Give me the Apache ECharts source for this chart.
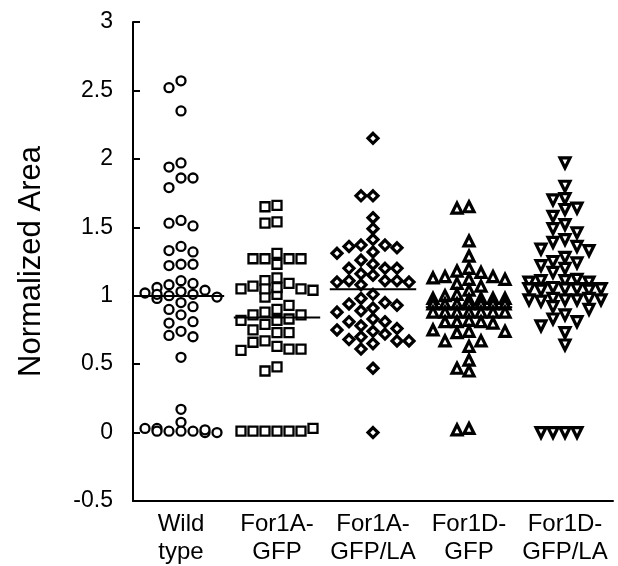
<!DOCTYPE html>
<html>
<head>
<meta charset="utf-8">
<script src="https://cdn.jsdelivr.net/npm/echarts@6/dist/echarts.min.js"></script>
<style>
  html, body { margin: 0; padding: 0; background: #fff; }
  #chart { width: 618px; height: 566px; }
</style>
</head>
<body>
<div id="chart"></div>
<script>
const categories = ['Wild\ntype', 'For1A-\nGFP', 'For1A-\nGFP/LA', 'For1D-\nGFP', 'For1D-\nGFP/LA']

// values, roughly top to bottom
const wildType = [
  2.57, 2.52, 2.35, 1.97, 1.94, 1.86, 1.86, 1.79, 1.55, 1.53, 1.51, 1.36, 1.33, 1.32,
  1.23, 1.22, 1.23, 1.11, 1.08, 1.09, 1.06, 1.04, 1.03, 1.02, 1.01, 1.00, 0.98, 0.99, 1.01,
  0.95, 0.92, 0.90, 0.86, 0.80, 0.81, 0.74, 0.71, 0.70, 0.55, 0.17, 0.075,
  0.01, 0.01, 0.03, 0.0, 0.03, 0.0, 0.01, 0.01, 0.02
]
const for1aGfp = [
  1.66, 1.65, 1.54, 1.53, 1.31, 1.27, 1.27, 1.27, 1.27, 1.23,
  1.13, 1.11, 1.09, 1.07, 1.05, 1.05, 1.01, 0.99, 1.04, 1.05, 1.06,
  0.93, 0.90, 0.88, 0.86, 0.86, 0.83, 0.82, 0.82, 0.79, 0.75, 0.73, 0.73,
  0.67, 0.66, 0.63, 0.61, 0.61, 0.60, 0.48, 0.45,
  0.01, 0.01, 0.01, 0.01, 0.01, 0.01, 0.03
]
const for1aGfpLa = [
  2.15, 1.73, 1.73, 1.57, 1.49,
  1.41, 1.37, 1.37, 1.36, 1.35, 1.32, 1.31,
  1.26, 1.23, 1.20, 1.20, 1.20, 1.16,
  1.15, 1.11, 1.11, 1.11, 1.10, 1.10, 1.08,
  1.01, 0.98, 0.95, 0.94, 0.93, 0.91, 0.89, 0.88,
  0.83, 0.81, 0.81, 0.78, 0.76, 0.75, 0.74,
  0.72, 0.70, 0.68, 0.67, 0.67, 0.65, 0.61, 0.47, 0.0
]
const for1dGfp = [
  1.65, 1.64, 1.40, 1.29, 1.20, 1.18,
  1.17, 1.14, 1.14, 1.13, 1.12, 1.12, 1.09, 1.07, 1.04,
  1.01, 1.00, 0.98, 0.98, 0.98, 0.98, 0.97,
  0.94, 0.94, 0.94, 0.94, 0.94, 0.94, 0.94,
  0.88, 0.88, 0.88, 0.88, 0.88, 0.88, 0.88,
  0.82, 0.81, 0.81, 0.81, 0.80,
  0.75, 0.74, 0.74, 0.73, 0.67, 0.67, 0.63,
  0.53, 0.47, 0.45, 0.03, 0.02
]
const for1dGfpLa = [
  1.97, 1.80, 1.71, 1.70, 1.64, 1.63, 1.58, 1.52, 1.49, 1.46,
  1.41, 1.39, 1.36, 1.34, 1.33, 1.28, 1.25, 1.24, 1.22, 1.20, 1.17,
  1.12, 1.11, 1.11, 1.10, 1.10,
  1.06, 1.05, 1.05, 1.05, 1.04, 1.04, 1.05,
  0.98, 0.97, 0.97, 0.96, 0.97, 0.97, 0.98,
  0.92, 0.90, 0.86, 0.83, 0.81, 0.78, 0.73, 0.64,
  0.0, 0.0, 0.0, 0.0
]

const groups = [wildType, for1aGfp, for1aGfpLa, for1dGfp, for1dGfpLa]
const symbols = ['circle', 'rect', 'diamond', 'triangle', 'triangle']
const rotations = [0, 0, 0, 0, 180]

// simple swarm: put each point in the nearest free column
const colStep = 0.125
const maxCol = 3
const minGap = 0.08
const swarm = (values, center) => {
  const cols = {}
  const order = [0]
  for (let k = 1; k <= maxCol; k++) order.push(-k, k)
  return values.map(v => {
    let best = null
    let bestGap = -1
    for (const c of order) {
      const taken = cols[c] || []
      const gap = taken.length ? Math.min(...taken.map(t => Math.abs(t - v))) : Infinity
      if (gap >= minGap) { best = c; break }
      if (gap > bestGap) { bestGap = gap; best = c }
    }
    (cols[best] = cols[best] || []).push(v)
    return [center + best * colStep, v]
  })
}

const mean = arr => arr.reduce((s, v) => s + v, 0) / arr.length

const font = 'Liberation Sans, Arial, sans-serif'
const chart = echarts.init(document.getElementById('chart'))

const series = groups.map((vals, i) => ({
  type: 'scatter',
  xAxisIndex: 1,
  data: swarm(vals, i),
  symbol: symbols[i],
  symbolSize: i < 2 ? 9 : 10,
  symbolRotate: rotations[i],
  itemStyle: {
    color: '#fff',
    borderColor: '#000',
    borderWidth: i < 2 ? 2.3 : 3.2,
    opacity: 1
  },
  z: 3
}))

// mean lines
series.push({
  type: 'custom',
  xAxisIndex: 1,
  data: groups.map((vals, i) => [i, mean(vals)]),
  renderItem: (params, api) => {
    const a = api.coord([api.value(0) - 0.45, api.value(1)])
    const b = api.coord([api.value(0) + 0.45, api.value(1)])
    return {
      type: 'line',
      shape: { x1: a[0], y1: a[1], x2: b[0], y2: b[1] },
      style: { stroke: '#000', lineWidth: 2 }
    }
  },
  z: 4
})

chart.setOption({
  animation: false,
  grid: { left: 133, right: 5, top: 22, bottom: 64 },
  xAxis: [
    {
      type: 'category',
      data: categories,
      axisLine: { onZero: false, lineStyle: { color: '#000', width: 2 } },
      axisTick: { inside: true, length: 7, lineStyle: { color: '#000', width: 2 } },
      axisLabel: {
        color: '#000',
        fontFamily: font,
        fontSize: 24,
        lineHeight: 28,
        margin: 9,
        interval: 0
      }
    },
    {
      type: 'value',
      min: -0.5,
      max: 4.5,
      show: false
    }
  ],
  yAxis: {
    type: 'value',
    min: -0.5,
    max: 3,
    interval: 0.5,
    name: 'Normalized Area',
    nameLocation: 'middle',
    nameGap: 86,
    nameTextStyle: { color: '#000', fontFamily: font, fontSize: 31 },
    axisLine: { show: true, onZero: false, lineStyle: { color: '#000', width: 2 } },
    axisTick: { show: true, inside: true, length: 7, lineStyle: { color: '#000', width: 2 } },
    axisLabel: { color: '#000', fontFamily: font, fontSize: 23, margin: 20 },
    splitLine: { show: false }
  },
  series
})
</script>
</body>
</html>
